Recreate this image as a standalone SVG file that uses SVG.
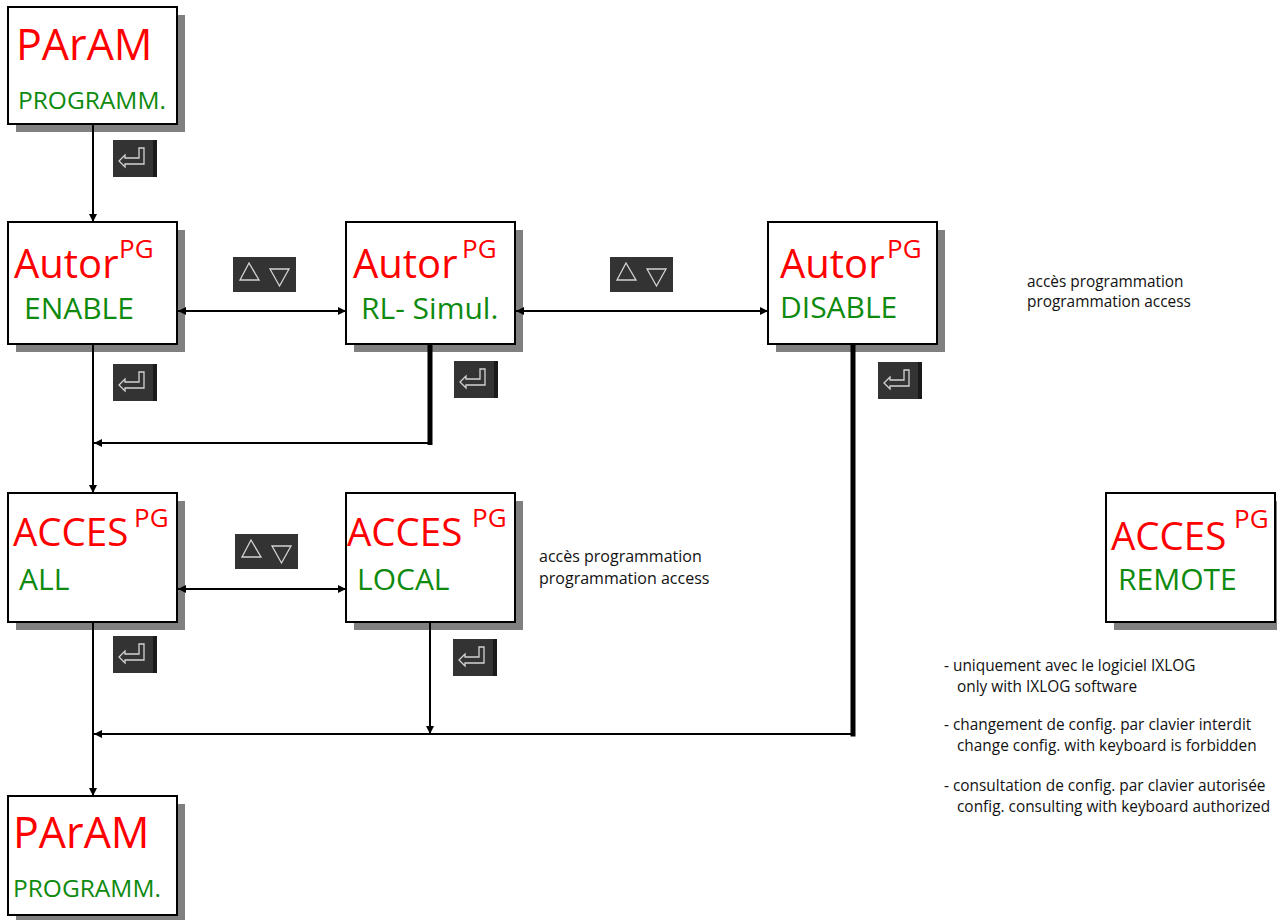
<svg xmlns="http://www.w3.org/2000/svg" width="1277" height="920" viewBox="0 0 1277 920">
<style>
text{font-family:"Open Sans","Noto Sans","DejaVu Sans",sans-serif}
.box{fill:#fff;stroke:#000;stroke-width:2}
.sh{fill:#808080}
.red{fill:#ff0000}
.grn{fill:#0e8a0e}
.big{font-size:40px}
.pa{font-size:43px}
.ac{font-size:38.5px}
.sup{font-size:26px}
.lbl{font-size:30px}
.prg{font-size:24.5px}
.note{font-size:16px;fill:#111}
.note2{font-size:15.4px;fill:#111}
.ln{fill:none;stroke:#000;stroke-width:2}
.thk{fill:none;stroke:#000;stroke-width:5}
.key{fill:#333}
.keyedge{fill:#1a1a1a}
.glyph{fill:none;stroke:#d4d4d4;stroke-width:1.3;stroke-linejoin:miter}
</style>
<defs>
<marker id="ah" markerUnits="userSpaceOnUse" markerWidth="9" markerHeight="9" refX="8" refY="4" orient="auto-start-reverse">
<path d="M0,0 L8,4 L0,8 Z" fill="#000"/>
</marker>
<g id="enter">
<rect class="key" x="0" y="0" width="44" height="37"/>
<rect class="keyedge" x="40" y="0" width="4" height="37"/>
<path class="glyph" d="M26,8 L31,8 L31,24 L12,24 L12,27 L6,21 L12,15 L12,18 L26,18 Z"/>
</g>
<g id="updown">
<rect class="key" x="0" y="0" width="63" height="35"/>
<path class="glyph" d="M16,6 L7,23 L26,23 Z"/>
<path class="glyph" d="M37,12 L56,12 L46.5,29 Z"/>
</g>
</defs>
<rect width="1277" height="920" fill="#fff"/>

<g id="param-top">
<rect class="sh" x="16" y="15" width="169" height="117"/>
<rect class="box" x="8" y="7" width="169" height="117"/>
<text class="red pa" x="16" y="60">PArAM</text>
<text class="grn prg" x="18" y="109">PROGRAMM.</text>
</g>

<g id="autor-enable">
<rect class="sh" x="16" y="230" width="169" height="122"/>
<rect class="box" x="8" y="222" width="169" height="122"/>
<text class="red big" x="14" y="278">Autor</text>
<text class="red sup" x="119" y="258">PG</text>
<text class="grn lbl" x="24" y="319">ENABLE</text>
</g>

<g id="autor-rl">
<rect class="sh" x="354" y="230" width="169" height="122"/>
<rect class="box" x="346" y="222" width="169" height="122"/>
<text class="red big" x="353" y="278">Autor</text>
<text class="red sup" x="462" y="258">PG</text>
<text class="grn lbl" x="361" y="319">RL- Simul.</text>
</g>

<g id="autor-disable">
<rect class="sh" x="776" y="230" width="169" height="122"/>
<rect class="box" x="768" y="222" width="169" height="122"/>
<text class="red big" x="780" y="278">Autor</text>
<text class="red sup" x="887" y="258">PG</text>
<text class="grn lbl" x="780" y="318">DISABLE</text>
</g>

<g id="acces-all">
<rect class="sh" x="16" y="501" width="169" height="129"/>
<rect class="box" x="8" y="493" width="169" height="129"/>
<text class="red ac" x="13" y="546">ACCES</text>
<text class="red sup" x="134" y="527">PG</text>
<text class="grn lbl" x="19" y="590">ALL</text>
</g>

<g id="acces-local">
<rect class="sh" x="354" y="501" width="169" height="129"/>
<rect class="box" x="346" y="493" width="169" height="129"/>
<text class="red ac" x="347" y="546">ACCES</text>
<text class="red sup" x="472" y="527">PG</text>
<text class="grn lbl" x="357" y="590">LOCAL</text>
</g>

<g id="acces-remote">
<rect class="sh" x="1114" y="501" width="169" height="129"/>
<rect class="box" x="1106" y="493" width="169" height="129"/>
<text class="red ac" x="1111" y="550">ACCES</text>
<text class="red sup" x="1234" y="528">PG</text>
<text class="grn lbl" x="1118" y="590">REMOTE</text>
</g>

<g id="param-bottom">
<rect class="sh" x="16" y="804" width="169" height="119"/>
<rect class="box" x="8" y="796" width="169" height="119"/>
<text class="red pa" x="13" y="848">PArAM</text>
<text class="grn prg" x="13" y="897">PROGRAMM.</text>
</g>

<g id="connectors">
<path class="ln" d="M93,125 V222" marker-end="url(#ah)"/>
<path class="ln" d="M178,311 H346" marker-start="url(#ah)" marker-end="url(#ah)"/>
<path class="ln" d="M516,311 H768" marker-start="url(#ah)" marker-end="url(#ah)"/>
<path class="ln" d="M93,345 V493" marker-end="url(#ah)"/>
<path class="thk" d="M430,345 V445"/>
<path class="ln" d="M432,443 H94" marker-end="url(#ah)"/>
<path class="ln" d="M178,589 H346" marker-start="url(#ah)" marker-end="url(#ah)"/>
<path class="ln" d="M430,623 V734" marker-end="url(#ah)"/>
<path class="thk" d="M853,345 V736.5"/>
<path class="ln" d="M855,734 H94" marker-end="url(#ah)"/>
<path class="ln" d="M93,623 V796" marker-end="url(#ah)"/>
</g>

<g id="keys">
<use href="#enter" x="113" y="140"/>
<use href="#enter" x="113" y="364"/>
<use href="#enter" x="454" y="361"/>
<use href="#enter" x="878" y="362"/>
<use href="#enter" x="113" y="636"/>
<use href="#enter" x="453" y="639"/>
<use href="#updown" x="233" y="257"/>
<use href="#updown" x="610" y="257"/>
<use href="#updown" x="235" y="534"/>
</g>

<g id="notes">
<text class="note2" x="1027" y="287">accès programmation</text>
<text class="note2" x="1027" y="307">programmation access</text>
<text class="note" x="539" y="562">accès programmation</text>
<text class="note" x="539" y="584">programmation access</text>
<text class="note2" x="944" y="671">- uniquement avec le logiciel IXLOG</text>
<text class="note2" x="957" y="692">only with IXLOG software</text>
<text class="note2" x="944" y="730">- changement de config. par clavier interdit</text>
<text class="note2" x="957" y="751">change config. with keyboard is forbidden</text>
<text class="note2" x="944" y="791">- consultation de config. par clavier autorisée</text>
<text class="note2" x="957" y="812">config. consulting with keyboard authorized</text>
</g>
</svg>
